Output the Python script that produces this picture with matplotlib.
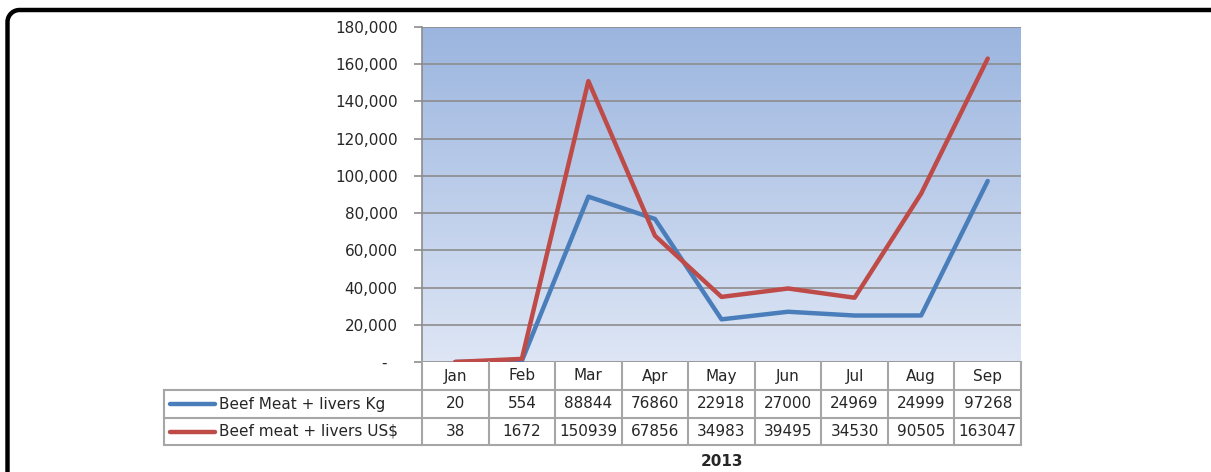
import numpy as np
import matplotlib
matplotlib.use("Agg")
import matplotlib.pyplot as plt
from matplotlib.transforms import blended_transform_factory

# data
months = ["Jan", "Feb", "Mar", "Apr", "May", "Jun", "Jul", "Aug", "Sep"]
kg_values = [20, 554, 88844, 76860, 22918, 27000, 24969, 24999, 97268]
usd_values = [38, 1672, 150939, 67856, 34983, 39495, 34530, 90505, 163047]
series_names = ["Beef Meat + livers Kg", "Beef meat + livers US$"]
y_ticks = [0, 20000, 40000, 60000, 80000, 100000, 120000, 140000, 160000, 180000]
x_title = "2013"

BLUE = "#4a7ebb"
RED = "#be4b48"
GRID = "#8c8c8c"
TABLE = "#a6a6a6"
TEXT = "#262626"

plt.rcParams["font.family"] = ["DejaVu Sans"]

W, H = 1211, 472
fig = plt.figure(figsize=(W / 100, H / 100), dpi=100)

# plot area in pixels: x 422..1021, y 27..362
ax = fig.add_axes([422 / W, (H - 362) / H, 599 / W, 335 / H])
n = len(months)
x = np.arange(n)

# gradient background, darker at the top
grad = np.linspace(0, 1, 256).reshape(-1, 1)
top = np.array([155, 181, 223]) / 255
bot = np.array([222, 230, 245]) / 255
img = bot + (top - bot) * grad[:, :, None]
ax.imshow(img, extent=[-0.5, n - 0.5, 0, 180000], origin="lower", aspect="auto", zorder=0)
ax.set_xlim(-0.5, n - 0.5)
ax.set_ylim(0, 180000)

for t in y_ticks:
    ax.axhline(t, color=GRID, lw=1.2, zorder=1)

ax.plot(x, kg_values, color=BLUE, lw=3.2, zorder=3, solid_capstyle="round")
ax.plot(x, usd_values, color=RED, lw=3.2, zorder=4, solid_capstyle="round")

ax.set_yticks(y_ticks)
ax.set_yticklabels(["-  " if t == 0 else f"{t:,}" for t in y_ticks], fontsize=11, color=TEXT)
ax.tick_params(axis="y", length=6, width=1.2, color=GRID, pad=11.5)
ax.set_xticks([])
for s in ["top", "right", "bottom"]:
    ax.spines[s].set_visible(False)
ax.spines["left"].set_color(GRID)
ax.spines["left"].set_linewidth(1.2)

# data table under the plot
bt = blended_transform_factory(ax.transData, ax.transAxes)
px = 1 / 335
row_edges = [0, -28 * px, -56 * px, -83 * px]
left_edge = (164 - 422) / 599

def hline(x0, x1, y, tr):
    ax.plot([x0, x1], [y, y], color=TABLE, lw=1.5, transform=tr, clip_on=False, zorder=5)

def vline(xv, y0, y1, tr):
    ax.plot([xv, xv], [y0, y1], color=TABLE, lw=1.5, transform=tr, clip_on=False, zorder=5)

for i in range(n + 1):
    vline(i - 0.5, row_edges[0], row_edges[3], bt)
vline(left_edge, row_edges[1], row_edges[3], ax.transAxes)
hline(0, 1, row_edges[1], ax.transAxes)
hline(left_edge, 0, row_edges[1], ax.transAxes)
hline(left_edge, 1, row_edges[2], ax.transAxes)
hline(left_edge, 1, row_edges[3], ax.transAxes)

for i, m in enumerate(months):
    ax.text(i, (row_edges[0] + row_edges[1]) / 2, m, transform=bt, ha="center",
            va="center", fontsize=11, color=TEXT)

rows = [kg_values, usd_values]
colors = [BLUE, RED]
for r, (vals, name, col) in enumerate(zip(rows, series_names, colors)):
    yc = (row_edges[r + 1] + row_edges[r + 2]) / 2
    for i, v in enumerate(vals):
        ax.text(i, yc, str(v), transform=bt, ha="center", va="center",
                fontsize=11, color=TEXT)
    ax.plot([(170 - 422) / 599, (215 - 422) / 599], [yc, yc], color=col, lw=3.2,
            transform=ax.transAxes, clip_on=False, solid_capstyle="round")
    ax.text((219 - 422) / 599, yc, name, transform=ax.transAxes, ha="left",
            va="center", fontsize=11, color=TEXT)

fig.text(722 / W, (H - 462) / H, x_title, ha="center", va="center",
         fontsize=11, fontweight="bold", color=TEXT)

# rounded frame (only top and left edges visible)
r = 0.12
x0, y0 = 0.075, (H - 10) / 100
ang = np.linspace(np.pi, np.pi / 2, 20)
fx = np.concatenate([[x0], x0 + r + r * np.cos(ang), [W / 100 + 0.2]])
fy = np.concatenate([[-0.2], y0 - r + r * np.sin(ang), [y0]])
fig.add_artist(plt.Line2D(fx, fy, transform=fig.dpi_scale_trans, color="black", lw=3.2))

fig.savefig("out.png", dpi=100)
